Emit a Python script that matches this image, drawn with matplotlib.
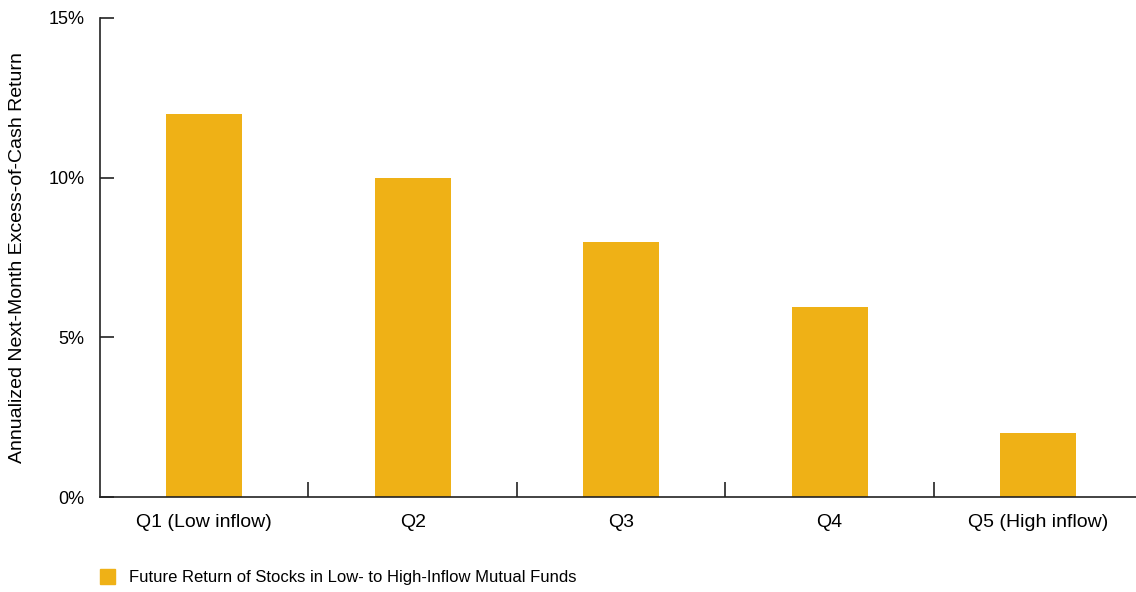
import numpy as np
import matplotlib.pyplot as plt
from matplotlib.patches import Patch

plt.rcParams['font.family'] = ['Liberation Sans', 'DejaVu Sans']

# Quintile categories and returns (%)
categories = ['Q1 (Low inflow)', 'Q2', 'Q3', 'Q4', 'Q5 (High inflow)']
returns = [12.0, 10.0, 8.0, 5.95, 2.0]
series_name = 'Future Return of Stocks in Low- to High-Inflow Mutual Funds'
bar_color = '#EFB116'

x = np.arange(len(categories))

fig = plt.figure(figsize=(11.36, 5.92), dpi=100)
ax = fig.add_axes([100 / 1136, 95 / 592, 1036 / 1136, 479 / 592])

ax.bar(x, returns, width=0.365, color=bar_color, zorder=2)

ax.set_xlim(-0.5, 4.47)
ax.set_ylim(0, 15)

ax.spines['top'].set_visible(False)
ax.spines['right'].set_visible(False)
for s in ['left', 'bottom']:
    ax.spines[s].set_linewidth(1.2)
    ax.spines[s].set_color('#222222')

ax.set_yticks([0, 5, 10, 15])
ax.set_yticklabels(['0%', '5%', '10%', '15%'])
ax.tick_params(axis='y', direction='in', length=10, width=1.2,
               pad=11, labelsize=13, color='#222222')

ax.set_xticks(x)
ax.set_xticklabels(categories)
ax.tick_params(axis='x', which='major', length=0, pad=12, labelsize=14)
ax.set_xticks(x[:-1] + 0.5, minor=True)
ax.tick_params(axis='x', which='minor', direction='in', length=11,
               width=1.2, color='#222222')

ax.set_ylabel('Annualized Next-Month Excess-of-Cash Return', fontsize=14)
ax.yaxis.set_label_coords(-0.0714, 0.5)

fig.legend(handles=[Patch(color=bar_color, label=series_name)],
           loc='center left', bbox_to_anchor=(0.0745, 0.025),
           frameon=False, fontsize=12, handlelength=0.95,
           handleheight=0.95, handletextpad=0.8)

plt.savefig('out.png', dpi=100)
